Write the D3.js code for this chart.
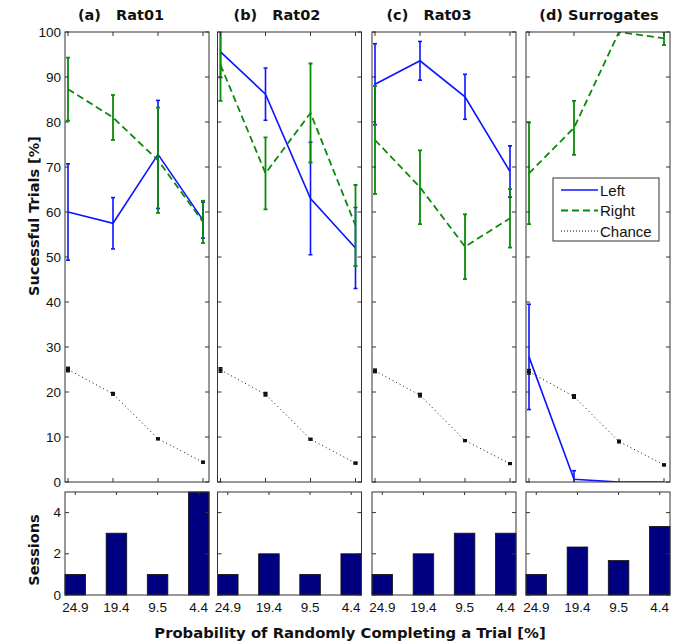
<!DOCTYPE html>
<html><head><meta charset="utf-8">
<script src="https://cdn.jsdelivr.net/npm/d3@7"></script>
<style>body{margin:0;background:#fff}svg{display:block}</style>
</head><body>
<svg id="c" width="679" height="643"></svg>
<script>
const xLabels = ["24.9","19.4","9.5","4.4"];
const panelTitles = ["(a)\u00a0\u00a0 Rat01","(b)\u00a0\u00a0 Rat02","(c)\u00a0\u00a0 Rat03","(d) Surrogates"];
const leftMean  = [[60,57.5,72.8,58.2],[95.6,86.2,63,52],[88.4,93.6,85.6,69],[27.8,0.6,0,0]];
const leftErr   = [[10.7,5.7,12,4],[5.7,5.8,12.5,9],[9,4.3,5,5.7],[11.7,1.9,0,0]];
const rightMean = [[87.3,81,71.5,57.8],[92.7,68.6,82,57],[76,65.5,52.3,58.6],[68.6,78.7,100,98.6]];
const rightErr  = [[7,5,11.7,4.7],[8,8,11,9],[12,8.2,7.2,6.5],[11.3,6,0,1.5]];
const chanceMean= [[25,19.6,9.6,4.4],[24.9,19.5,9.5,4.2],[24.7,19.3,9.2,4.1],[24.5,19,9,3.8]];
const chanceErr = [[0.5,0.3,0.2,0.2],[0.5,0.4,0.2,0.2],[0.4,0.4,0.2,0.2],[0.5,0.4,0.3,0.2]];
const sessions  = [[1,3,1,5],[1,2,1,2],[1,2,3,3],[1,2.33,1.67,3.33]];
const yTicksTop = [0,10,20,30,40,50,60,70,80,90,100];
const yTicksBot = [0,2,4];

const svg = d3.select("#c");
const lefts = [65, 217.5, 372, 526];
const pw = 144;
const topY0 = 32, topY1 = 482, botY0 = 492, botY1 = 595;
const titleX = [121, 277, 429, 599];
const blue = "#0a14ff", green = "#0a8a0a", navy = "#000080";
const fontTick = "'Liberation Sans', Arial, sans-serif";
const fontBold = "'DejaVu Sans', Verdana, sans-serif";

const yTop = d3.scaleLinear().domain([0,100]).range([topY1, topY0]);
const yBot = d3.scaleLinear().domain([0,5]).range([botY1, botY0]);

lefts.forEach((L, p) => {
  const xTop = d3.scalePoint().domain(xLabels).range([L+3, L+138]);
  const xBot = d3.scaleLinear().domain([0.75, 4.25]).range([L, L+pw]);
  const clipId = "clip"+p;
  svg.append("clipPath").attr("id", clipId).append("rect")
    .attr("x", L).attr("y", topY0).attr("width", pw).attr("height", topY1-topY0);
  const g = svg.append("g").attr("clip-path", `url(#${clipId})`);

  function series(mean, err, color, dash, lw, capW, ewidth){
    const line = d3.line().x((d,i)=>xTop(xLabels[i])).y(d=>yTop(d));
    g.append("path").datum(mean).attr("d", line).attr("fill","none")
      .attr("stroke", color).attr("stroke-width", lw).attr("stroke-dasharray", dash);
    mean.forEach((m,i)=>{
      const e = err[i]; if (!e) return;
      const x = xTop(xLabels[i]);
      g.append("line").attr("x1",x).attr("x2",x).attr("y1",yTop(m-e)).attr("y2",yTop(m+e))
        .attr("stroke",color).attr("stroke-width",ewidth);
      [m-e,m+e].forEach(v=>g.append("line").attr("x1",x-capW).attr("x2",x+capW)
        .attr("y1",yTop(v)).attr("y2",yTop(v)).attr("stroke",color).attr("stroke-width",ewidth));
    });
  }
  series(leftMean[p], leftErr[p], blue, null, 1.6, 2, 1.6);
  series(rightMean[p], rightErr[p], green, "7,4", 1.8, 2, 1.8);
  series(chanceMean[p], chanceErr[p], "#111", "1,3", 1, 2, 1.4);
  chanceMean[p].forEach((m,i)=>{
    g.append("rect").attr("x", xTop(xLabels[i])-2).attr("y", yTop(m)-1.5)
      .attr("width",4).attr("height",3).attr("fill","#111");
  });

  svg.append("rect").attr("x",L).attr("y",topY0).attr("width",pw).attr("height",topY1-topY0)
    .attr("fill","none").attr("stroke","#333").attr("stroke-width",1);
  yTicksTop.forEach(t=>{
    const y = yTop(t);
    svg.append("line").attr("x1",L).attr("x2",L+4).attr("y1",y).attr("y2",y).attr("stroke","#333");
    svg.append("line").attr("x1",L+pw-4).attr("x2",L+pw).attr("y1",y).attr("y2",y).attr("stroke","#333");
  });
  xLabels.forEach(l=>{
    const x = xTop(l);
    svg.append("line").attr("x1",x).attr("x2",x).attr("y1",topY0).attr("y2",topY0+4).attr("stroke","#333");
    svg.append("line").attr("x1",x).attr("x2",x).attr("y1",topY1-4).attr("y2",topY1).attr("stroke","#333");
  });
  if (p===0){
    yTicksTop.forEach(t=>svg.append("text").attr("x",61).attr("y",yTop(t)+4.5)
      .attr("text-anchor","end").attr("font-family",fontTick).attr("font-size",13.5).attr("fill","#111").text(t));
  }
  svg.append("text").attr("x",titleX[p]).attr("y",20).attr("text-anchor","middle")
    .attr("font-family",fontBold).attr("font-weight","bold").attr("font-size",14.5).attr("fill","#111")
    .text(panelTitles[p]);

  const bw = xBot(1.25)-xBot(0.75);
  sessions[p].forEach((v,i)=>{
    const c = xBot(i+1);
    svg.append("rect").attr("x",c-bw/2).attr("y",yBot(v)).attr("width",bw).attr("height",yBot(0)-yBot(v))
      .attr("fill",navy).attr("stroke","#111").attr("stroke-width",0.8);
  });
  svg.append("rect").attr("x",L).attr("y",botY0).attr("width",pw).attr("height",botY1-botY0)
    .attr("fill","none").attr("stroke","#333").attr("stroke-width",1);
  yTicksBot.forEach(t=>{
    const y = yBot(t);
    svg.append("line").attr("x1",L).attr("x2",L+4).attr("y1",y).attr("y2",y).attr("stroke","#333");
    svg.append("line").attr("x1",L+pw-4).attr("x2",L+pw).attr("y1",y).attr("y2",y).attr("stroke","#333");
  });
  xLabels.forEach((l,i)=>{
    const x = xBot(i+1);
    svg.append("line").attr("x1",x).attr("x2",x).attr("y1",botY0).attr("y2",botY0+3).attr("stroke","#333");
    svg.append("text").attr("x",x).attr("y",612).attr("text-anchor","middle")
      .attr("font-family",fontTick).attr("font-size",13.5).attr("fill","#111").text(l);
  });
  if (p===0){
    yTicksBot.forEach(t=>svg.append("text").attr("x",61).attr("y",yBot(t)+4.5)
      .attr("text-anchor","end").attr("font-family",fontTick).attr("font-size",13.5).attr("fill","#111").text(t));
  }
});

const lg = svg.append("g");
lg.append("rect").attr("x",553).attr("y",178).attr("width",106).attr("height",63)
  .attr("fill","#fff").attr("stroke","#333");
const legendItems = [["Left",blue,null,1.6],["Right",green,"7,4",1.8],["Chance","#111","1,2",1]];
legendItems.forEach((it,i)=>{
  const y = 190 + i*20.5;
  lg.append("line").attr("x1",561).attr("x2",598).attr("y1",y).attr("y2",y)
    .attr("stroke",it[1]).attr("stroke-width",it[3]).attr("stroke-dasharray",it[2]);
  lg.append("text").attr("x",600).attr("y",y+5.5).attr("font-family",fontTick).attr("font-size",15)
    .attr("fill","#111").text(it[0]);
});

svg.append("text").attr("transform","translate(39,216) rotate(-90)").attr("text-anchor","middle")
  .attr("font-family",fontBold).attr("font-weight","bold").attr("font-size",14.5).attr("fill","#111")
  .text("Sucessful Trials [%]");
svg.append("text").attr("transform","translate(39,550) rotate(-90)").attr("text-anchor","middle")
  .attr("font-family",fontBold).attr("font-weight","bold").attr("font-size",14.5).attr("fill","#111")
  .text("Sessions");
svg.append("text").attr("x",350).attr("y",638).attr("text-anchor","middle")
  .attr("font-family",fontBold).attr("font-weight","bold").attr("font-size",14.8).attr("fill","#111")
  .text("Probability of Randomly Completing a Trial [%]");
</script>
</body></html>
